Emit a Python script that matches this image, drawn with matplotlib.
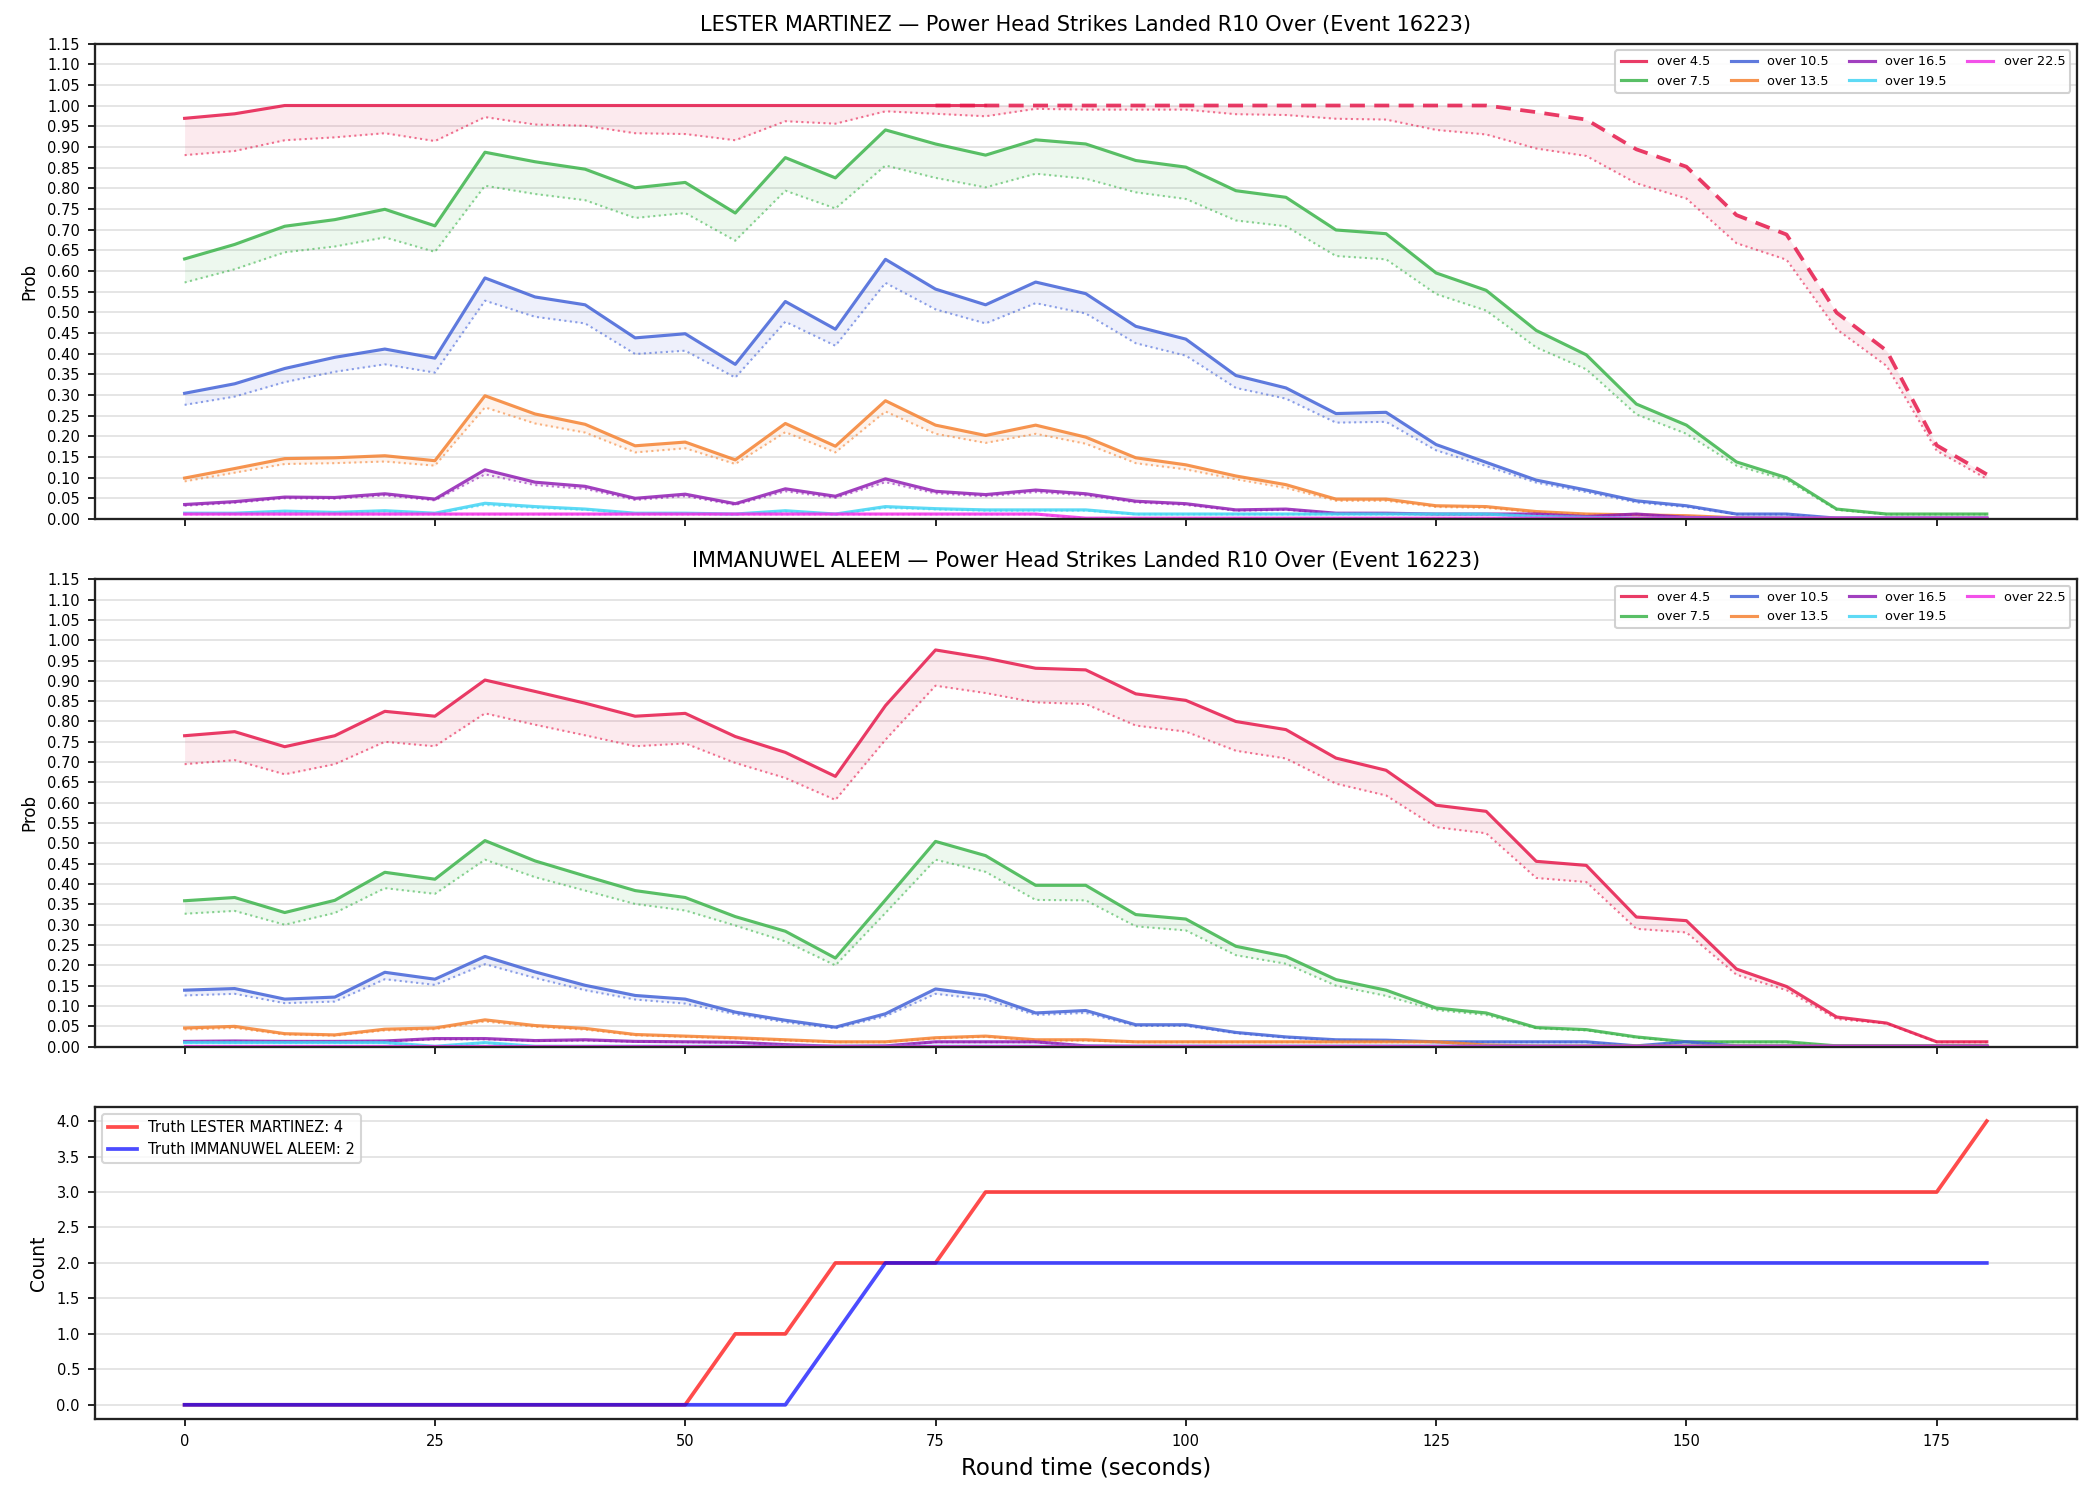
import matplotlib
matplotlib.use("Agg")
import matplotlib.pyplot as plt
import numpy as np

# round time (seconds)
t = list(range(0, 185, 5))

lines = ["over 4.5", "over 7.5", "over 10.5", "over 13.5", "over 16.5", "over 19.5", "over 22.5"]
colors = ["#e6194B", "#3cb44b", "#4363d8", "#f58231", "#911eb4", "#42d4f4", "#f032e6"]

# LESTER MARTINEZ: main prob and lower band per line
lm_45 = [0.969, 0.98] + [1.0] * 25 + [0.984, 0.966, 0.894, 0.852, 0.735, 0.688, 0.499, 0.407, 0.178, 0.108]
lm_45_lo = [0.88, 0.89, 0.916, 0.923, 0.933, 0.914, 0.972, 0.954, 0.951, 0.933, 0.931,
            0.916, 0.962, 0.956, 0.986, 0.98, 0.974, 0.992, 0.99, 0.99, 0.99, 0.979, 0.977, 0.968, 0.966,
            0.941, 0.93, 0.896, 0.878, 0.812, 0.775, 0.667, 0.627, 0.459, 0.37, 0.165, 0.097]
lm_75 = [0.629, 0.664, 0.708, 0.724, 0.749, 0.709, 0.887, 0.864, 0.846, 0.801, 0.814,
         0.74, 0.874, 0.825, 0.941, 0.907, 0.88, 0.917, 0.907, 0.867, 0.851, 0.794, 0.778, 0.699, 0.69,
         0.595, 0.553, 0.456, 0.397, 0.278, 0.227, 0.138, 0.1, 0.024, 0.012, 0.012, 0.012]
lm_75_lo = [0.572, 0.604, 0.645, 0.659, 0.681, 0.646, 0.806, 0.786, 0.771, 0.728, 0.74,
            0.673, 0.794, 0.751, 0.855, 0.825, 0.802, 0.835, 0.823, 0.79, 0.774, 0.722, 0.708, 0.636, 0.628,
            0.544, 0.504, 0.415, 0.362, 0.253, 0.206, 0.129, 0.094, 0.022, 0.011, 0.011, 0.011]
lm_105 = [0.304, 0.327, 0.364, 0.391, 0.411, 0.389, 0.583, 0.537, 0.518, 0.438, 0.448,
          0.374, 0.526, 0.459, 0.628, 0.556, 0.518, 0.573, 0.545, 0.466, 0.435, 0.347, 0.317, 0.255, 0.258,
          0.18, 0.137, 0.094, 0.07, 0.044, 0.032, 0.012, 0.012, 0.002, 0.002, 0.002, 0.002]
lm_105_lo = [0.276, 0.296, 0.331, 0.356, 0.374, 0.354, 0.528, 0.489, 0.473, 0.399, 0.407,
             0.342, 0.477, 0.419, 0.571, 0.507, 0.473, 0.522, 0.497, 0.425, 0.395, 0.317, 0.291, 0.233, 0.235,
             0.166, 0.128, 0.088, 0.065, 0.04, 0.029, 0.011, 0.011, 0.001, 0.001, 0.001, 0.001]
lm_135 = [0.099, 0.122, 0.146, 0.148, 0.153, 0.141, 0.298, 0.254, 0.229, 0.177, 0.186,
          0.143, 0.231, 0.176, 0.286, 0.227, 0.202, 0.227, 0.198, 0.148, 0.131, 0.104, 0.083, 0.048, 0.048,
          0.032, 0.03, 0.018, 0.012, 0.01, 0.008, 0.003, 0.002, 0.002, 0.002, 0.002, 0.002]
lm_135_lo = [0.091, 0.112, 0.133, 0.135, 0.139, 0.129, 0.27, 0.231, 0.209, 0.161, 0.171,
             0.133, 0.21, 0.161, 0.26, 0.206, 0.184, 0.206, 0.182, 0.135, 0.12, 0.096, 0.075, 0.044, 0.044,
             0.029, 0.027, 0.016, 0.011, 0.009, 0.007, 0.002, 0.001, 0.001, 0.001, 0.001, 0.001]
lm_165 = [0.035, 0.042, 0.053, 0.052, 0.061, 0.048, 0.119, 0.089, 0.079, 0.05, 0.06,
          0.037, 0.073, 0.055, 0.097, 0.067, 0.059, 0.07, 0.061, 0.043, 0.037, 0.022, 0.024, 0.014, 0.014,
          0.012, 0.012, 0.012, 0.006, 0.012, 0.004, 0.002, 0.002, 0.002, 0.002, 0.002, 0.002]
lm_165_lo = [0.032, 0.039, 0.05, 0.049, 0.057, 0.045, 0.108, 0.082, 0.073, 0.046, 0.055,
             0.034, 0.067, 0.051, 0.089, 0.062, 0.055, 0.065, 0.057, 0.04, 0.034, 0.02, 0.022, 0.013, 0.013,
             0.011, 0.011, 0.011, 0.005, 0.011, 0.003, 0.001, 0.001, 0.001, 0.001, 0.001, 0.001]
lm_195 = [0.014, 0.014, 0.019, 0.016, 0.02, 0.014, 0.038, 0.03, 0.024, 0.014, 0.014,
          0.012, 0.02, 0.012, 0.03, 0.025, 0.022, 0.022, 0.022, 0.012, 0.012, 0.012, 0.012, 0.012, 0.012,
          0.012, 0.012, 0.006, 0.004, 0.002, 0.002, 0.002, 0.002, 0.002, 0.002, 0.002, 0.002]
lm_195_lo = [0.013, 0.013, 0.017, 0.015, 0.018, 0.013, 0.034, 0.027, 0.022, 0.013, 0.013,
             0.011, 0.018, 0.011, 0.027, 0.023, 0.02, 0.02, 0.02, 0.011, 0.011, 0.011, 0.011, 0.011, 0.011,
             0.011, 0.011, 0.005, 0.003, 0.001, 0.001, 0.001, 0.001, 0.001, 0.001, 0.001, 0.001]
lm_225 = [0.012] * 18 + [0.002] * 19
lm_225_lo = [0.011] * 18 + [0.001] * 19

# IMMANUWEL ALEEM
ia_45 = [0.765, 0.775, 0.738, 0.765, 0.825, 0.813, 0.902, 0.874, 0.845, 0.813, 0.82,
         0.763, 0.724, 0.665, 0.839, 0.976, 0.956, 0.931, 0.927, 0.868, 0.852, 0.8, 0.78, 0.71, 0.68,
         0.594, 0.579, 0.456, 0.446, 0.319, 0.31, 0.191, 0.148, 0.073, 0.058, 0.012, 0.012]
ia_45_lo = [0.695, 0.705, 0.67, 0.695, 0.75, 0.739, 0.82, 0.792, 0.766, 0.739, 0.746,
            0.698, 0.661, 0.607, 0.755, 0.888, 0.87, 0.847, 0.843, 0.79, 0.775, 0.728, 0.709, 0.647, 0.618,
            0.54, 0.525, 0.415, 0.405, 0.29, 0.281, 0.177, 0.139, 0.068, 0.057, 0.011, 0.011]
ia_75 = [0.359, 0.367, 0.33, 0.36, 0.429, 0.412, 0.507, 0.457, 0.42, 0.384, 0.367,
         0.32, 0.284, 0.218, 0.361, 0.505, 0.47, 0.397, 0.397, 0.325, 0.314, 0.247, 0.222, 0.165, 0.139,
         0.095, 0.083, 0.047, 0.042, 0.024, 0.012, 0.012, 0.012, 0.002, 0.002, 0.002, 0.002]
ia_75_lo = [0.327, 0.334, 0.3, 0.329, 0.39, 0.376, 0.46, 0.417, 0.384, 0.351, 0.335,
            0.298, 0.259, 0.2, 0.329, 0.46, 0.43, 0.361, 0.36, 0.296, 0.286, 0.225, 0.204, 0.15, 0.125,
            0.09, 0.078, 0.045, 0.04, 0.022, 0.011, 0.011, 0.011, 0.001, 0.001, 0.001, 0.001]
ia_105 = [0.139, 0.143, 0.117, 0.122, 0.183, 0.166, 0.222, 0.184, 0.151, 0.126, 0.117,
          0.085, 0.065, 0.048, 0.081, 0.142, 0.126, 0.083, 0.089, 0.054, 0.054, 0.035, 0.024, 0.017, 0.016,
          0.012, 0.012, 0.012, 0.012, 0.002, 0.012, 0.002, 0.002, 0.002, 0.002, 0.002, 0.002]
ia_105_lo = [0.126, 0.13, 0.107, 0.111, 0.166, 0.152, 0.203, 0.169, 0.139, 0.116, 0.106,
             0.08, 0.06, 0.045, 0.075, 0.13, 0.116, 0.078, 0.083, 0.051, 0.051, 0.033, 0.022, 0.015, 0.014,
             0.011, 0.011, 0.011, 0.011, 0.001, 0.011, 0.001, 0.001, 0.001, 0.001, 0.001, 0.001]
ia_135 = [0.046, 0.05, 0.032, 0.029, 0.043, 0.046, 0.066, 0.052, 0.045, 0.03, 0.026,
          0.022, 0.017, 0.012, 0.012, 0.022, 0.026, 0.017, 0.017, 0.012, 0.012, 0.012, 0.012, 0.012, 0.012,
          0.012, 0.004, 0.002, 0.002, 0.002, 0.002, 0.002, 0.002, 0.002, 0.002, 0.002, 0.002]
ia_135_lo = [0.042, 0.046, 0.03, 0.027, 0.04, 0.043, 0.062, 0.049, 0.042, 0.028, 0.024,
             0.02, 0.015, 0.011, 0.011, 0.02, 0.024, 0.015, 0.015, 0.011, 0.011, 0.011, 0.011, 0.011, 0.011,
             0.011, 0.003, 0.001, 0.001, 0.001, 0.001, 0.001, 0.001, 0.001, 0.001, 0.001, 0.001]
ia_165 = [0.013, 0.014, 0.013, 0.013, 0.014, 0.02, 0.02, 0.015, 0.017, 0.013, 0.012,
          0.011, 0.005, 0.001, 0.002, 0.012, 0.012, 0.012, 0.002, 0.001, 0.001, 0.001, 0.001, 0.001, 0.001,
          0.001, 0.001, 0.001, 0.001, 0.001, 0.001, 0.001, 0.001, 0.001, 0.001, 0.001, 0.001]
ia_165_lo = [0.012, 0.013, 0.012, 0.012, 0.013, 0.018, 0.018, 0.014, 0.015, 0.012, 0.011,
             0.01, 0.004, 0.0, 0.001, 0.011, 0.011, 0.011, 0.001, 0.0, 0.0, 0.0, 0.0, 0.0, 0.0,
             0.0, 0.0, 0.0, 0.0, 0.0, 0.0, 0.0, 0.0, 0.0, 0.0, 0.0, 0.0]
ia_195 = [0.01, 0.01, 0.01, 0.01, 0.01, 0.001, 0.01] + [0.001] * 30
ia_195_lo = [0.009, 0.009, 0.009, 0.009, 0.009, 0.0, 0.009] + [0.0] * 30
ia_225 = [0.001] * 37
ia_225_lo = [0.0] * 37

# truth counts
truth_lm = [0] * 11 + [1, 1] + [2, 2, 2] + [3] * 20 + [4]
truth_ia = [0] * 13 + [1] + [2] * 23

players = [
    ("LESTER MARTINEZ",
     [lm_45, lm_75, lm_105, lm_135, lm_165, lm_195, lm_225],
     [lm_45_lo, lm_75_lo, lm_105_lo, lm_135_lo, lm_165_lo, lm_195_lo, lm_225_lo]),
    ("IMMANUWEL ALEEM",
     [ia_45, ia_75, ia_105, ia_135, ia_165, ia_195, ia_225],
     [ia_45_lo, ia_75_lo, ia_105_lo, ia_135_lo, ia_165_lo, ia_195_lo, ia_225_lo]),
]

plt.rcParams['font.family'] = ['DejaVu Sans']
fig, axes = plt.subplots(3, 1, figsize=(14, 10), dpi=150, sharex=True,
                         gridspec_kw={'height_ratios': [355, 349, 233]})
fig.subplots_adjust(left=0.045, right=0.989, top=0.971, bottom=0.054, hspace=0.144)

tt = np.array(t)
for ax, (name, mains, lows) in zip(axes[:2], players):
    for i, (lab, col) in enumerate(zip(lines, colors)):
        y = np.array(mains[i])
        lo = np.array(lows[i])
        if name == "LESTER MARTINEZ" and i == 0:
            # solid up to 80s, dashed afterwards
            s = tt <= 80
            d = tt >= 75
            ax.plot(tt[s], y[s], color=col, lw=1.5, alpha=0.85, label=lab)
            ax.plot(tt[d], y[d], color=col, lw=1.8, alpha=0.85, ls=(0, (4, 2.5)))
        else:
            ax.plot(tt, y, color=col, lw=1.5, alpha=0.85, label=lab)
        ax.plot(tt, lo, color=col, lw=1.0, alpha=0.6, ls=':')
        ax.fill_between(tt, lo, y, color=col, alpha=0.09, lw=0)
    ax.set_ylim(0, 1.15)
    ax.set_yticks(np.arange(0, 1.151, 0.05))
    ax.set_title(f"{name} — Power Head Strikes Landed R10 Over (Event 16223)", fontsize=10)
    ax.set_ylabel("Prob", fontsize=8)
    ax.legend(loc='upper right', ncol=4, fontsize=6.2, framealpha=0.9, columnspacing=1.6)

ax = axes[2]
ax.plot(t, truth_lm, color='red', lw=1.8, alpha=0.7, label=f"Truth LESTER MARTINEZ: {truth_lm[-1]}")
ax.plot(t, truth_ia, color='blue', lw=1.8, alpha=0.7, label=f"Truth IMMANUWEL ALEEM: {truth_ia[-1]}")
ax.set_ylabel("Count", fontsize=9)
ax.set_xlabel("Round time (seconds)", fontsize=11)
ax.set_xticks([0, 25, 50, 75, 100, 125, 150, 175])
ax.legend(loc='upper left', fontsize=7)

for ax in axes:
    ax.grid(axis='y', color='#e0e0e0', lw=0.8)
    ax.set_axisbelow(True)
    ax.tick_params(labelsize=7)
    for sp in ax.spines.values():
        sp.set_linewidth(1.1)
        sp.set_color('#222222')

fig.savefig("out.png", dpi=150)
